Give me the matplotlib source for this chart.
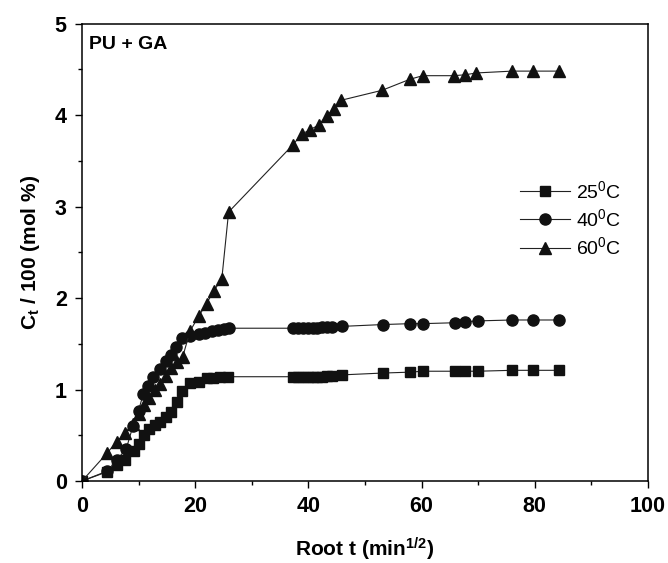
import matplotlib
matplotlib.use("Agg")
import matplotlib.pyplot as plt
from matplotlib.ticker import MultipleLocator

plt.rcParams['font.family'] = ['Liberation Sans', 'DejaVu Sans']
plt.rcParams['mathtext.fontset'] = 'custom'
plt.rcParams['mathtext.rm'] = 'Liberation Sans'
plt.rcParams['mathtext.bf'] = 'Liberation Sans:bold'
plt.rcParams['mathtext.it'] = 'Liberation Sans:italic'

# 25 C
x25 = [0, 4.4, 6.1, 7.6, 9.1, 10.1, 11.0, 11.9, 12.9, 13.8, 14.8, 15.8, 16.7, 17.6,
       19.1, 20.6, 22.0, 23.2, 24.4, 25.8,
       37.2, 38.2, 39.1, 40.0, 40.8, 41.6, 42.4, 43.2, 44.2, 45.9,
       53.1, 58.0, 60.2, 65.9, 67.7, 69.9, 76.0, 79.6, 84.2]
y25 = [0, 0.10, 0.17, 0.23, 0.33, 0.41, 0.50, 0.57, 0.61, 0.65, 0.70, 0.75, 0.86, 0.98,
       1.07, 1.08, 1.13, 1.13, 1.14, 1.14,
       1.14, 1.14, 1.14, 1.14, 1.14, 1.14, 1.14, 1.15, 1.15, 1.16,
       1.18, 1.19, 1.20, 1.20, 1.20, 1.20, 1.21, 1.21, 1.21]

# 40 C
x40 = [0, 4.5, 6.1, 7.8, 9.0, 10.0, 10.8, 11.7, 12.5, 13.8, 14.8, 15.7, 16.6, 17.6,
       19.1, 20.6, 21.7, 22.9, 24.1, 25.1, 26.0,
       37.2, 38.2, 39.1, 40.0, 40.8, 41.6, 42.4, 43.2, 44.2, 45.9,
       53.1, 58.0, 60.2, 65.9, 67.7, 69.9, 76.0, 79.6, 84.2]
y40 = [0, 0.11, 0.23, 0.35, 0.60, 0.77, 0.95, 1.04, 1.14, 1.22, 1.31, 1.38, 1.47, 1.56,
       1.59, 1.61, 1.62, 1.64, 1.65, 1.66, 1.67,
       1.67, 1.67, 1.67, 1.67, 1.67, 1.67, 1.68, 1.68, 1.68, 1.69,
       1.71, 1.72, 1.72, 1.73, 1.74, 1.75, 1.76, 1.76, 1.76]

# 60 C
x60 = [0, 4.5, 6.1, 7.6, 9.0, 10.1, 11.0, 11.9, 12.9, 13.8, 14.8, 15.8, 16.8, 17.8,
       19.1, 20.6, 22.0, 23.3, 24.7, 25.9,
       37.2, 38.8, 40.3, 41.8, 43.2, 44.5, 45.7,
       53.0, 57.9, 60.2, 65.7, 67.7, 69.7, 76.0, 79.6, 84.2]
y60 = [0, 0.31, 0.43, 0.52, 0.62, 0.73, 0.83, 0.91, 0.99, 1.06, 1.15, 1.23, 1.30, 1.36,
       1.64, 1.80, 1.94, 2.08, 2.21, 2.94,
       3.67, 3.79, 3.84, 3.89, 3.99, 4.07, 4.16,
       4.27, 4.39, 4.43, 4.43, 4.44, 4.46, 4.48, 4.48, 4.48]

labels = ['25$^{0}$C', '40$^{0}$C', '60$^{0}$C']

fig = plt.figure(figsize=(6.68, 5.63), dpi=100)
ax = fig.add_axes([0.1228, 0.1456, 0.8472, 0.8126])

lc = '#222222'
ax.plot(x25, y25, color=lc, lw=0.8, marker='s', ms=7, mfc='#111111', mec='#111111', label=labels[0])
ax.plot(x40, y40, color=lc, lw=0.8, marker='o', ms=8, mfc='#111111', mec='#111111', label=labels[1])
ax.plot(x60, y60, color=lc, lw=0.8, marker='^', ms=9, mfc='#111111', mec='#111111', label=labels[2])

ax.set_xlim(0, 100)
ax.set_ylim(0, 5)
ax.xaxis.set_major_locator(MultipleLocator(20))
ax.xaxis.set_minor_locator(MultipleLocator(10))
ax.yaxis.set_major_locator(MultipleLocator(1))
ax.yaxis.set_minor_locator(MultipleLocator(0.5))
ax.tick_params(which='major', direction='out', length=5, width=1, labelsize=15.5, pad=6)
ax.tick_params(which='minor', direction='out', length=3, width=1)
for lab in ax.get_xticklabels() + ax.get_yticklabels():
    lab.set_fontweight('bold')
for s in ax.spines.values():
    s.set_linewidth(1.1)

ax.set_xlabel('Root t (min$^{\\mathbf{1/2}}$)', fontsize=15, fontweight='bold', labelpad=13)
ax.set_ylabel('C$_{\\mathbf{t}}$ / 100 (mol %)', fontsize=15, fontweight='bold', labelpad=9)

ax.text(0.012, 0.972, 'PU + GA', transform=ax.transAxes, fontsize=14, fontweight='bold',
        va='top', ha='left')

leg = ax.legend(loc='upper left', bbox_to_anchor=(0.76, 0.675), frameon=False, fontsize=14,
                handlelength=2.6, handletextpad=0.3, labelspacing=0.33, borderaxespad=0)

fig.savefig('out.png', dpi=100)
